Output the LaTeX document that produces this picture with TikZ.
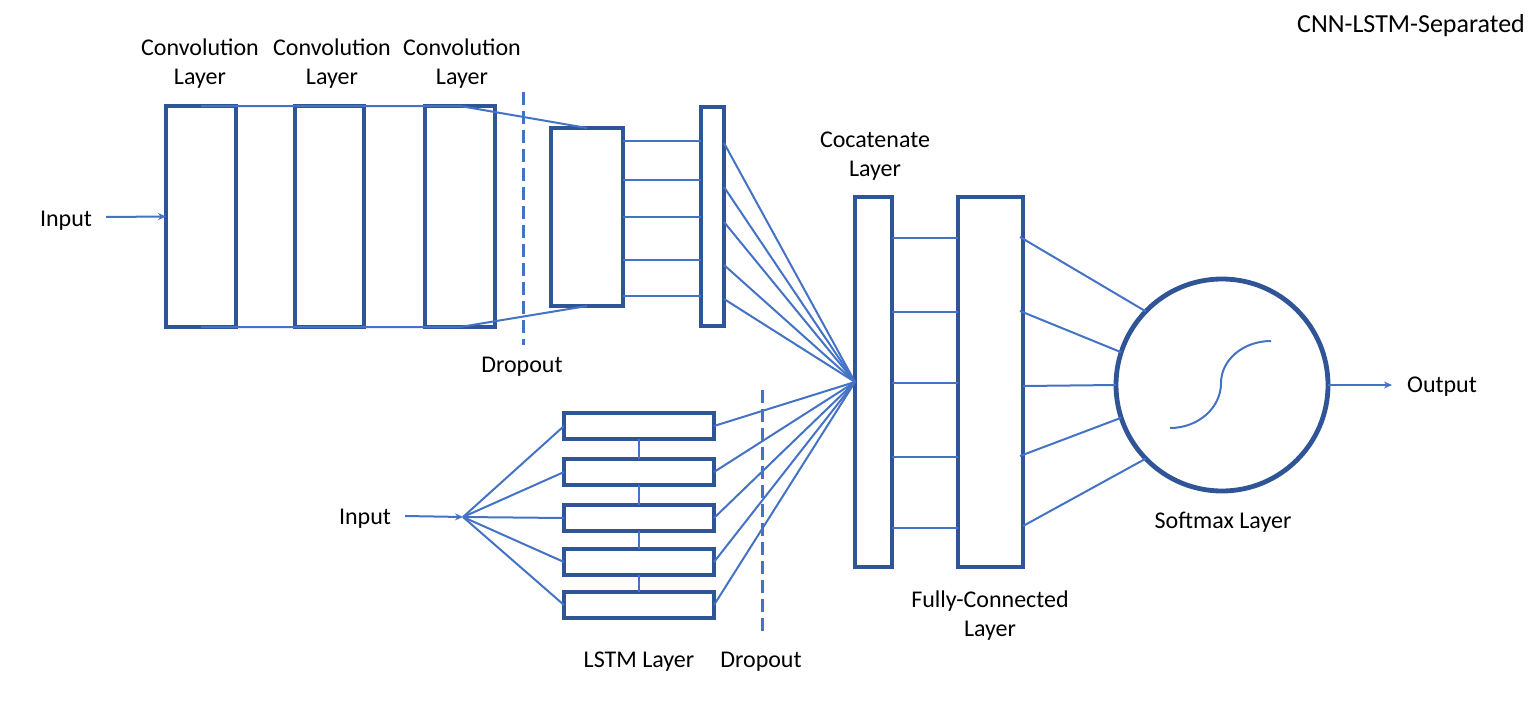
\documentclass[tikz,border=0pt]{standalone}
\usepackage{fontspec}
\setmainfont{Carlito}
\usetikzlibrary{arrows.meta}
\definecolor{boxblue}{HTML}{2F5597}
\definecolor{lineblue}{HTML}{4472C4}
\begin{document}
\begin{tikzpicture}[x=1pt,y=-1pt,
  layerbox/.style={draw=boxblue, line width=4.2pt, rectangle, inner sep=0pt, outer sep=0pt},
  conn/.style={draw=lineblue, line width=2pt},
  arr/.style={conn, -{Stealth[length=8pt,width=7pt]}},
  dropline/.style={draw=lineblue, line width=3pt, dash pattern=on 13pt off 6pt},
  lbl/.style={font=\fontsize{24}{29}\selectfont, inner sep=0pt, align=center, text=black},
]
\useasboundingbox (0,0) rectangle (1536,720);

% ---------- CNN branch ----------
\node[layerbox, minimum width=70pt, minimum height=221pt] (c1) at (201,216.5) {};
\node[layerbox, minimum width=69pt, minimum height=221pt] (c2) at (329.5,216.5) {};
\node[layerbox, minimum width=70pt, minimum height=221pt] (c3) at (460,216.5) {};
\node[layerbox, minimum width=72pt, minimum height=178pt] (pool) at (587,217) {};
\node[layerbox, minimum width=23pt, minimum height=219pt] (flat) at (712.5,216.5) {};

% ---------- LSTM branch ----------
\foreach \y [count=\i] in {426,472,518,562,605}
  \node[layerbox, minimum width=150pt, minimum height=26pt] (l\i) at (639,\y) {};

% ---------- merge ----------
\node[layerbox, minimum width=37pt, minimum height=370pt] (cat) at (873.5,382) {};
\node[layerbox, minimum width=65pt, minimum height=370pt] (fc) at (990.5,382) {};
\node[draw=boxblue, line width=4.8pt, circle, minimum size=212pt, inner sep=0pt, outer sep=0pt] (soft) at (1222,385) {};

% ---------- labels ----------
\node[lbl, font=\fontsize{26}{31}\selectfont] (title) at (1411,26) {CNN-LSTM-Separated};
\node[lbl] (lc1) at (200,64) {Convolution\\Layer};
\node[lbl] (lc2) at (332,64) {Convolution\\Layer};
\node[lbl] (lc3) at (462,64) {Convolution\\Layer};
\node[lbl] (ldrop1) at (522,366.5) {Dropout};
\node[lbl] (lcat) at (875,156) {Cocatenate\\Layer};
\node[lbl] (lfc) at (990,616) {Fully-Connected\\Layer};
\node[lbl] (lsoft) at (1223,522.5) {Softmax Layer};
\node[lbl] (llstm) at (639,661.5) {LSTM Layer};
\node[lbl] (ldrop2) at (761,661.5) {Dropout};
\node[lbl] (in1) at (66,220.5) {Input};
\node[lbl] (in2) at (365,518.5) {Input};
\node[lbl] (out) at (1442,386.5) {Output};

% ---------- helper coordinates ----------
\coordinate (in1s) at (106,217);
\coordinate (in2s) at (405,516);
\coordinate (fan) at (463,517);
\coordinate (outtip) at (1392,385);

% ---------- dropout dashed lines ----------
\draw[dropline] (523,92) -- (523,345);
\draw[dropline] (762,390) -- (762,632);

% ---------- connectors ----------
\draw[arr] (in1s) -- (c1.west);
\draw[conn] (c1.north) -- (c3.north) -- (pool.north);
\draw[conn] (c1.south) -- (c3.south) -- (pool.south);

\foreach \y in {141,180,217,260,296}
  \draw[conn] (pool.east |- 0,\y) -- (flat.west |- 0,\y);

\foreach \y in {143,187,222,265,299}
  \draw[conn] (flat.east |- 0,\y) -- (cat.west);

\draw[arr] (in2s) -- (fan);
\foreach \i in {1,...,5} {
  \draw[conn] (fan) -- (l\i.west);
  \draw[conn] (l\i.east) -- (cat.west);
}
\foreach \i [evaluate=\i as \j using int(\i+1)] in {1,...,4}
  \draw[conn] (l\i.south) -- (l\j.north);

\foreach \y in {238,312,383,457,528}
  \draw[conn] (cat.east |- 0,\y) -- (fc.west |- 0,\y);

\draw[conn] (1020,237) -- (soft.136);
\draw[conn] (1020,311) -- (soft.162);
\draw[conn] (fc.east |- 0,386) -- (soft.180);
\draw[conn] (1020,456) -- (soft.198);
\draw[conn] (fc.east |- 0,526) -- (soft.224);

\draw[arr] (soft.east) -- (outtip);

% sigmoid glyph inside softmax
\draw[conn] (1170,428) .. controls (1198,428) and (1221,408) .. (1221,383)
  .. controls (1221,360) and (1243,341) .. (1271,341);
\end{tikzpicture}
\end{document}
